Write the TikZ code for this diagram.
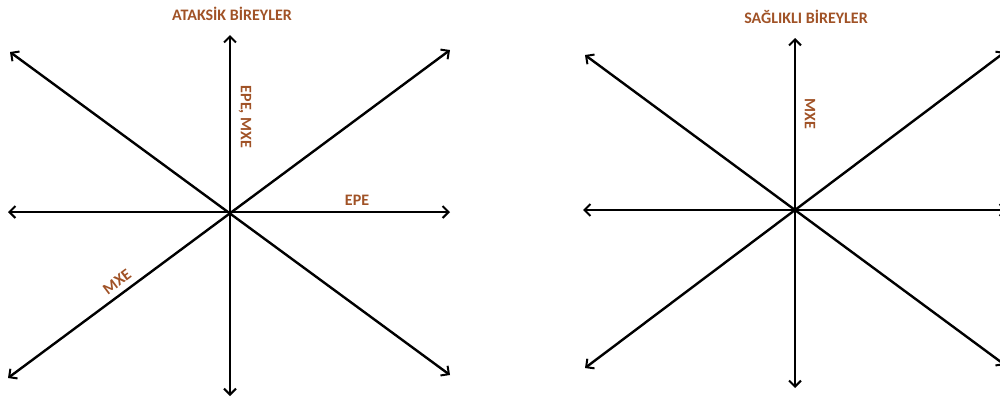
\documentclass[tikz,border=0pt]{standalone}
\usepackage{fontspec}
\setmainfont{Carlito}
\usetikzlibrary{arrows.meta,positioning,calc}
\definecolor{kahve}{RGB}{160,82,38}

\begin{document}
\begin{tikzpicture}[x=1pt, y=-1pt]
  \tikzstyle{arrow} = [line width=2.4pt, <->, >={Straight Barb[length=6pt,width=12pt,line width=2pt]}]
  \tikzstyle{label} = [text=kahve, font=\fontsize{16}{18}\selectfont\bfseries, inner sep=0pt]
  \clip (0,0) rectangle (1000,400);
  % left star: ataksik
  \coordinate (lc) at (230,212);
  \coordinate (ln) at (230,35);
  \coordinate (ls) at (230,396);
  \coordinate (lw) at (8,212);
  \coordinate (le) at (450,212);
  \coordinate (lnw) at (10,52);
  \coordinate (lse) at (450,375);
  \coordinate (lne) at (450,50);
  \coordinate (lsw) at (8,378);
  \draw [arrow] (ls) -- (ln);
  \draw [arrow] (lw) -- (le);
  \draw [arrow] (lnw) -- (lse);
  \draw [arrow] (lsw) -- (lne);
  \node [label] (ltitle) at (232,14) {ATAKSİK BİREYLER};
  \node [label, rotate=-90] (lvert) at (245,117) {EPE, MXE};
  \node [label] (lhor) at (357,200) {EPE};
  \node [label, rotate=37] (ldiag) at (117,282) {MXE};
  % right star: saglikli
  \coordinate (rc) at (795,210);
  \coordinate (rn) at (795,38);
  \coordinate (rs) at (795,388);
  \coordinate (rw) at (583,210);
  \coordinate (re) at (1007,210);
  \coordinate (rnw) at (585,55);
  \coordinate (rse) at (1005,365);
  \coordinate (rne) at (1005,52);
  \coordinate (rsw) at (585,368);
  \draw [arrow] (rs) -- (rn);
  \draw [arrow] (rw) -- (re);
  \draw [arrow] (rnw) -- (rse);
  \draw [arrow] (rsw) -- (rne);
  \node [label] (rtitle) at (806,17) {SAĞLIKLI BİREYLER};
  \node [label, rotate=-90] (rvert) at (810,114) {MXE};
\end{tikzpicture}
\end{document}
